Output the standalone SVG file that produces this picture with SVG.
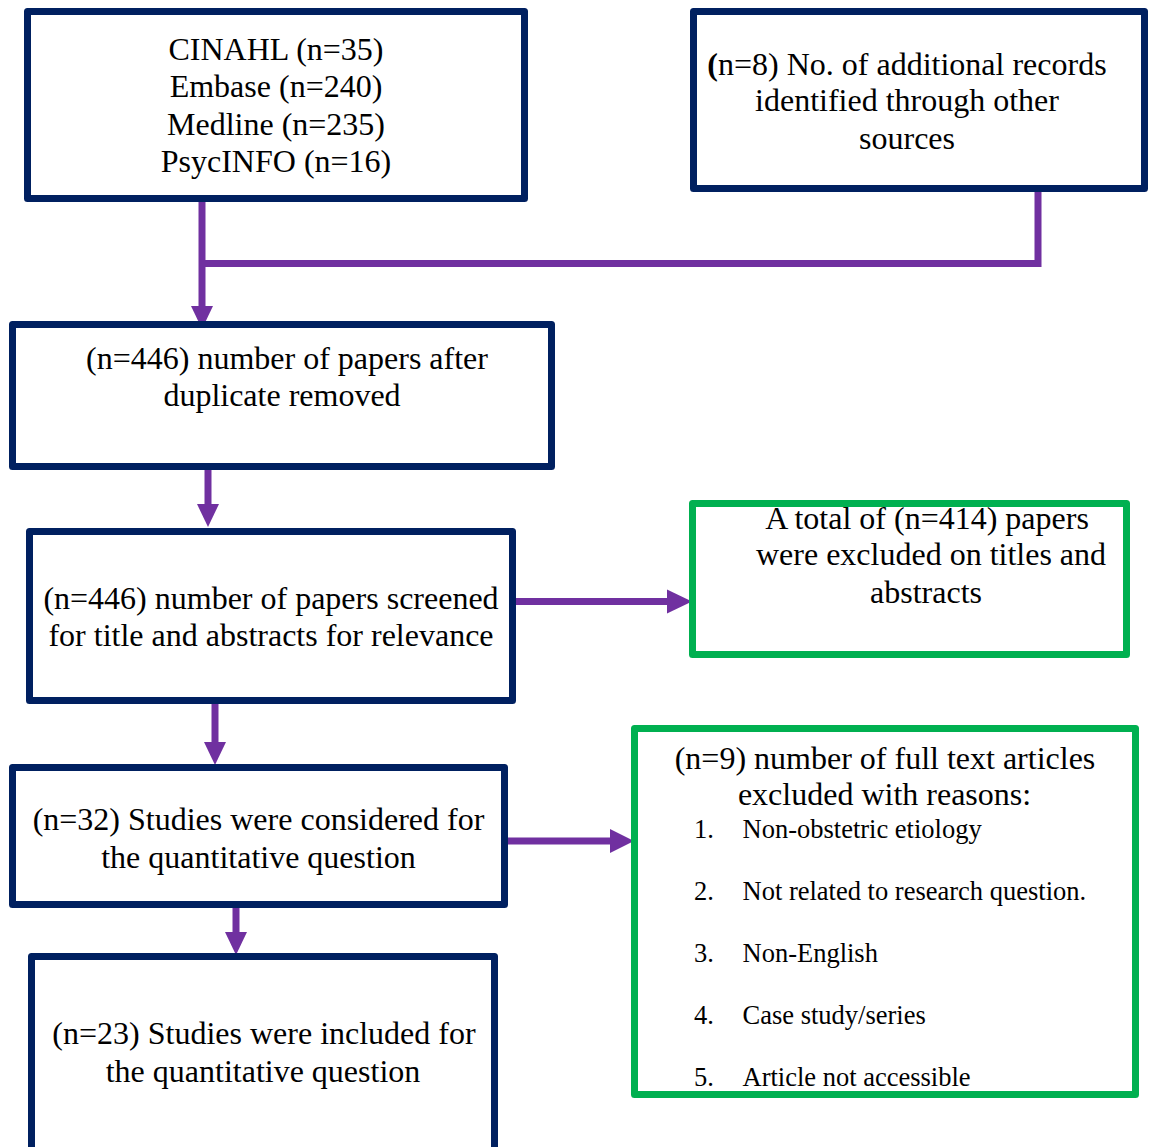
<svg xmlns="http://www.w3.org/2000/svg" width="1151" height="1147" viewBox="0 0 1151 1147">
<style>
.box{fill:#fff;stroke:#002060;stroke-width:7;stroke-linejoin:round}
.gbox{fill:#fff;stroke:#00B050;stroke-width:7;stroke-linejoin:round}
.t{font-family:"Liberation Serif","Times New Roman",serif;font-size:32px;fill:#000;text-anchor:middle}
.s{font-family:"Liberation Serif","Times New Roman",serif;font-size:26.5px;fill:#000}
.ln{fill:none;stroke:#7030A0;stroke-width:7}
.hd{fill:#7030A0}
</style>
<rect width="1151" height="1147" fill="#fff"/>
<g id="connectors">
<path class="ln" d="M202,202 V308"/>
<path class="ln" d="M1038,190 V263.5 H199"/>
<polygon class="hd" points="191,306 213,306 202,329"/>
<path class="ln" d="M208,470 V506"/>
<polygon class="hd" points="197,504 219,504 208,527"/>
<path class="ln" d="M514,601.5 H669"/>
<polygon class="hd" points="667,589.5 667,613.5 692,601.5"/>
<path class="ln" d="M215,704 V744"/>
<polygon class="hd" points="204,742 226,742 215,765"/>
<path class="ln" d="M506,841 H612"/>
<polygon class="hd" points="610,829 610,853 634,841"/>
<path class="ln" d="M236,908 V934"/>
<polygon class="hd" points="225,932 247,932 236,955"/>
</g>
<g id="n1">
<rect class="box" x="27.5" y="11.5" width="497" height="187"/>
<text class="t" x="276" y="60">CINAHL (n=35)</text>
<text class="t" x="276" y="97">Embase (n=240)</text>
<text class="t" x="276" y="135">Medline (n=235)</text>
<text class="t" x="276" y="172">PsycINFO (n=16)</text>
</g>
<g id="n2">
<rect class="box" x="693.5" y="11.5" width="451" height="177"/>
<text class="t" x="907" y="75"><tspan font-weight="bold">(</tspan>n=8) No. of additional records</text>
<text class="t" x="907" y="111">identified through other</text>
<text class="t" x="907" y="149">sources</text>
</g>
<g id="n3">
<rect class="box" x="12.5" y="324.5" width="539" height="142"/>
<text class="t" x="287" y="369">(n=446) number of papers after</text>
<text class="t" x="282" y="406">duplicate removed</text>
</g>
<g id="n4">
<rect class="box" x="29.5" y="531.5" width="483" height="169"/>
<text class="t" x="271" y="609">(n=446) number of papers screened</text>
<text class="t" x="271" y="646">for title and abstracts for relevance</text>
</g>
<g id="n5">
<rect class="gbox" x="692.5" y="503.5" width="434" height="151"/>
<text class="t" x="927" y="529">A total of (n=414) papers</text>
<text class="t" x="931" y="565">were excluded on titles and</text>
<text class="t" x="926" y="603">abstracts</text>
</g>
<g id="n6">
<rect class="box" x="12.5" y="767.5" width="492" height="137"/>
<text class="t" x="258.5" y="830">(n=32) Studies were considered for</text>
<text class="t" x="258.5" y="868">the quantitative question</text>
</g>
<g id="n7">
<rect class="gbox" x="634.5" y="728.5" width="501" height="366"/>
<text class="t" x="885" y="769">(n=9) number of full text articles</text>
<text class="t" x="884.5" y="805">excluded with reasons:</text>
<text class="s" x="694" y="838">1.</text><text class="s" x="742.5" y="838">Non-obstetric etiology</text>
<text class="s" x="694" y="900">2.</text><text class="s" x="742.5" y="900">Not related to research question.</text>
<text class="s" x="694" y="962">3.</text><text class="s" x="742.5" y="962">Non-English</text>
<text class="s" x="694" y="1024">4.</text><text class="s" x="742.5" y="1024">Case study/series</text>
<text class="s" x="694" y="1086">5.</text><text class="s" x="742.5" y="1086">Article not accessible</text>
</g>
<g id="n8">
<rect class="box" x="31.5" y="956.5" width="463" height="210"/>
<text class="t" x="264" y="1044">(n=23) Studies were included for</text>
<text class="t" x="263" y="1082">the quantitative question</text>
</g>
</svg>
